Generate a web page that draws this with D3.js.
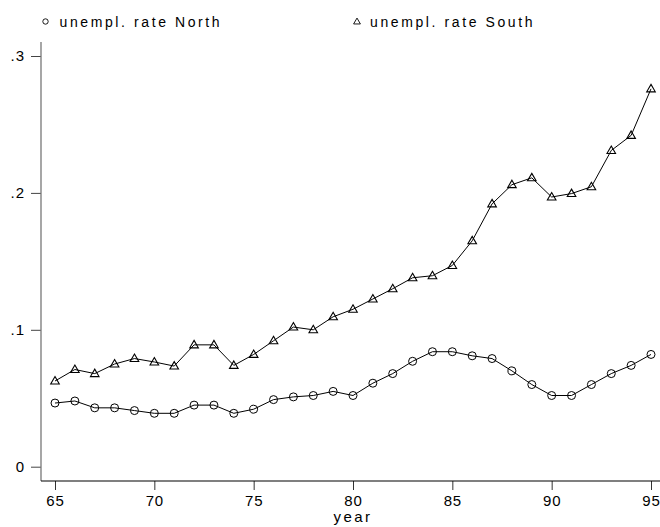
<!DOCTYPE html>
<html>
<head>
<meta charset="utf-8">
<script src="https://cdn.jsdelivr.net/npm/d3@7"></script>
<style>
  body { margin: 0; background: #fff; }
  text { font-family: "Liberation Sans", Arial, sans-serif; }
</style>
</head>
<body>
<script>
let width = 660,
    height = 527;

// data
let years = d3.range(65, 96);
let north = [0.0465, 0.048, 0.043, 0.043, 0.041, 0.039, 0.039, 0.045, 0.045, 0.039,
             0.042, 0.049, 0.051, 0.052, 0.055, 0.052, 0.061, 0.068, 0.077, 0.084,
             0.084, 0.081, 0.079, 0.070, 0.060, 0.052, 0.052, 0.060, 0.068, 0.074, 0.082];
let south = [0.0626, 0.071, 0.068, 0.075, 0.079, 0.0765, 0.0735, 0.089, 0.089, 0.074,
             0.082, 0.092, 0.102, 0.100, 0.1095, 0.115, 0.1225, 0.130, 0.138, 0.1395,
             0.147, 0.165, 0.192, 0.206, 0.211, 0.197, 0.1995, 0.2045, 0.231, 0.242, 0.276];
let yTicks = [0, 0.1, 0.2, 0.3];
let yTickLabels = ["0", ".1", ".2", ".3"];
let xTicks = [65, 70, 75, 80, 85, 90, 95];

let svg = d3.select("body").append("svg")
    .attr("width", width)
    .attr("height", height)

let x = d3.scaleLinear().domain([65, 95]).range([55, 651]);
let y = d3.scaleLinear().domain([0, 0.3]).range([466.7, 56]);

// axes
let axisLeftX = 41, axisBottomY = 481;

let yAxis = svg.append("g")
    .attr("transform", "translate(" + axisLeftX + ",0)")
    .call(d3.axisLeft(y).tickValues(yTicks).tickSize(10).tickPadding(6)
        .tickFormat((d, i) => yTickLabels[i]));
yAxis.select(".domain").remove();
yAxis.append("line")
    .attr("x1", 0).attr("x2", 0)
    .attr("y1", 42).attr("y2", axisBottomY)
    .attr("stroke", "#777").attr("stroke-width", 1.3);
yAxis.selectAll(".tick line").attr("stroke", "#444");
yAxis.selectAll("text").attr("font-size", 15).attr("letter-spacing", 1).attr("fill", "#000");

let xAxis = svg.append("g")
    .attr("transform", "translate(0," + axisBottomY + ")")
    .call(d3.axisBottom(x).tickValues(xTicks).tickSize(9).tickPadding(5));
xAxis.select(".domain").remove();
xAxis.append("line")
    .attr("x1", axisLeftX).attr("x2", width)
    .attr("y1", 0).attr("y2", 0)
    .attr("stroke", "#000").attr("stroke-width", 1.2);
xAxis.selectAll(".tick line").attr("stroke", "#333");
xAxis.selectAll("text").attr("font-size", 15).attr("letter-spacing", 0.8)
    .attr("fill", "#000");

svg.append("text")
    .attr("x", 353).attr("y", 522)
    .attr("text-anchor", "middle")
    .attr("font-size", 15)
    .attr("letter-spacing", 2.4)
    .text("year")

// lines
let line = d3.line().x((d, i) => x(years[i])).y(d => y(d));

svg.append("path").datum(south)
    .attr("d", line).attr("fill", "none").attr("stroke", "#000").attr("stroke-width", 1);
svg.append("path").datum(north)
    .attr("d", line).attr("fill", "none").attr("stroke", "#000").attr("stroke-width", 1);

let tri = d3.symbol().type(d3.symbolTriangle).size(32);

svg.selectAll(".south")
    .data(south)
    .enter().append("path")
    .attr("class", "south")
    .attr("d", tri)
    .attr("transform", (d, i) => "translate(" + x(years[i]) + "," + (y(d) + 0.5) + ")")
    .attr("fill", "none")
    .attr("stroke", "#000")
    .attr("stroke-width", 1.1)

svg.selectAll(".north")
    .data(north)
    .enter().append("circle")
    .attr("class", "north")
    .attr("cx", (d, i) => x(years[i]))
    .attr("cy", d => y(d))
    .attr("r", 4)
    .attr("fill", "none")
    .attr("stroke", "#000")
    .attr("stroke-width", 1)

// legend
svg.append("circle")
    .attr("cx", 45.5).attr("cy", 21.5).attr("r", 2.7)
    .attr("fill", "none").attr("stroke", "#000").attr("stroke-width", 0.9);
svg.append("text")
    .attr("x", 59.5).attr("y", 26.5).attr("font-size", 14).attr("letter-spacing", 2.6)
    .text("unempl. rate North")

svg.append("path")
    .attr("d", d3.symbol().type(d3.symbolTriangle).size(20))
    .attr("transform", "translate(357,22)")
    .attr("fill", "none").attr("stroke", "#000").attr("stroke-width", 0.9);
svg.append("text")
    .attr("x", 370).attr("y", 26.5).attr("font-size", 14).attr("letter-spacing", 2.6)
    .text("unempl. rate South")
</script>
</body>
</html>
